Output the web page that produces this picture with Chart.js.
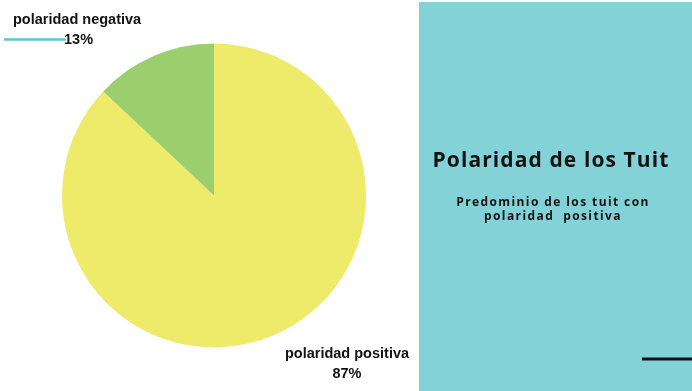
<!DOCTYPE html>
<html>
<head>
<meta charset="utf-8">
<script src="https://cdn.jsdelivr.net/npm/chart.js@4.4.1/dist/chart.umd.min.js"></script>
<style>
  html, body { margin: 0; padding: 0; background: #ffffff; }
  #wrap { position: relative; width: 692px; height: 391px; overflow: hidden; }
  canvas { display: block; }
</style>
</head>
<body>
<div id="wrap"><canvas id="chart" width="692" height="391"></canvas></div>
<script>
// Tweet polarity shares (percent)
const categories = ['polaridad positiva', 'polaridad negativa'];
const shares = [87, 13];
const sliceColors = ['#eeea6a', '#9bcf6e'];

// Side panel texts
const panelTitle = 'Polaridad de los Tuit';
const panelSubtitle = ['Predominio de los tuit con', 'polaridad  positiva'];

const TEXT = '#121212';
const LABEL_FONT = 'bold 14.5px "Liberation Sans", Arial, sans-serif';

// Teal side panel with heading, plus the small dark rule at its bottom
const sidePanel = {
  id: 'sidePanel',
  beforeDraw(chart) {
    const ctx = chart.ctx;
    ctx.save();
    ctx.fillStyle = '#82d2d7';
    ctx.fillRect(419, 2, 273, 389);

    ctx.fillStyle = '#101010';
    ctx.fillRect(642, 357.5, 50, 3);

    ctx.fillStyle = TEXT;
    ctx.textAlign = 'center';
    ctx.textBaseline = 'alphabetic';
    ctx.font = 'bold 21px "Open Sans", sans-serif';
    ctx.letterSpacing = '1.1px';
    ctx.fillText(panelTitle, 551, 167);

    ctx.font = 'bold 12px "Open Sans", sans-serif';
    ctx.letterSpacing = '1.4px';
    ctx.fillText(panelSubtitle[0], 553, 206);
    ctx.fillText(panelSubtitle[1], 553, 220);
    ctx.restore();
  }
};

// Category name and percentage for each slice
const sliceLabels = {
  id: 'sliceLabels',
  afterDatasetsDraw(chart) {
    const ctx = chart.ctx;
    const data = chart.data.datasets[0].data;
    const total = data.reduce((a, b) => a + b, 0);
    const pct = i => Math.round(data[i] / total * 100) + '%';
    ctx.save();
    ctx.fillStyle = TEXT;
    ctx.font = LABEL_FONT;
    ctx.textBaseline = 'alphabetic';

    // negative slice: top-left, with a teal leader line
    ctx.strokeStyle = '#5cc6cc';
    ctx.lineWidth = 2.5;
    ctx.beginPath();
    ctx.moveTo(4, 39.5);
    ctx.lineTo(66, 39.5);
    ctx.stroke();
    ctx.textAlign = 'left';
    ctx.fillText(chart.data.labels[1], 13, 24);
    ctx.fillText(pct(1), 64, 44);

    // positive slice: bottom-right
    ctx.textAlign = 'center';
    ctx.fillText(chart.data.labels[0], 347, 358);
    ctx.fillText(pct(0), 347, 378);
    ctx.restore();
  }
};

new Chart(document.getElementById('chart'), {
  type: 'pie',
  data: {
    labels: categories,
    datasets: [{
      data: shares,
      backgroundColor: sliceColors,
      borderWidth: 0
    }]
  },
  options: {
    responsive: false,
    animation: false,
    layout: { padding: { left: 62, top: 43, right: 326, bottom: 43 } },
    plugins: {
      legend: { display: false },
      tooltip: { enabled: false },
      title: { display: false }
    }
  },
  plugins: [sidePanel, sliceLabels]
});
</script>
</body>
</html>
